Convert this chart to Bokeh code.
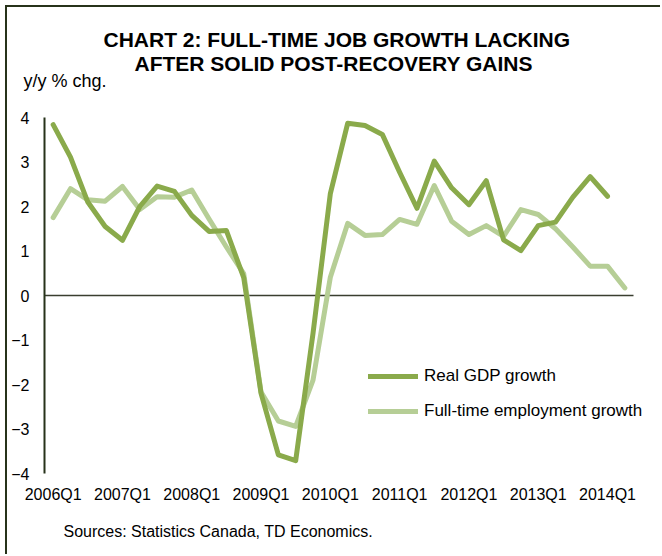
from bokeh.plotting import figure
from bokeh.models import Range1d, FixedTicker, Legend, LegendItem, Title
from bokeh.embed import file_html
from bokeh.resources import INLINE

# Quarterly categories, 2006Q1 .. 2014Q2
quarters = [
    "2006Q1", "2006Q2", "2006Q3", "2006Q4",
    "2007Q1", "2007Q2", "2007Q3", "2007Q4",
    "2008Q1", "2008Q2", "2008Q3", "2008Q4",
    "2009Q1", "2009Q2", "2009Q3", "2009Q4",
    "2010Q1", "2010Q2", "2010Q3", "2010Q4",
    "2011Q1", "2011Q2", "2011Q3", "2011Q4",
    "2012Q1", "2012Q2", "2012Q3", "2012Q4",
    "2013Q1", "2013Q2", "2013Q3", "2013Q4",
    "2014Q1", "2014Q2",
]

# Real GDP growth, y/y % chg. (through 2014Q1)
gdp_growth = [
    3.84, 3.11, 2.10, 1.55, 1.24, 2.00, 2.46, 2.34,
    1.80, 1.44, 1.46, 0.40, -2.20, -3.58, -3.71, -0.85,
    2.29, 3.87, 3.82, 3.62, 2.77, 1.96, 3.02, 2.42,
    2.04, 2.58, 1.25, 1.01, 1.57, 1.65, 2.21, 2.67,
    2.23,
]

# Full-time employment growth, y/y % chg. (through 2014Q2)
fulltime_growth = [
    1.75, 2.40, 2.15, 2.12, 2.45, 1.93, 2.22, 2.21,
    2.37, 1.72, 1.09, 0.49, -2.17, -2.82, -2.94, -1.90,
    0.41, 1.62, 1.35, 1.37, 1.71, 1.60, 2.47, 1.67,
    1.37, 1.57, 1.33, 1.93, 1.82, 1.50, 1.09, 0.66,
    0.66, 0.17,
]

y_ticks = [-4, -3, -2, -1, 0, 1, 2, 3, 4]
x_label_every = 4

FONT = "Liberation Sans"
DARK_GREEN = "#8AAA4B"
LIGHT_GREEN = "#B6CE96"
AXIS_COLOR = "#27321a"

n = len(quarters)
# the category band takes 589 px; the frame runs on to the right edge (618 px)
# so the legend text has room past the last quarter
x_end = -0.5 + n * 618 / 589

p = figure(
    width=655, height=549,
    output_backend="svg", toolbar_location=None,
    x_range=Range1d(-0.5, x_end),
    y_range=Range1d(-4, 4),
    min_border_left=37, min_border_right=0,
    min_border_top=110, min_border_bottom=83,
)
p.styles = {
    "margin-left": "5px", "margin-top": "5px",
    "border-left": f"2px solid {AXIS_COLOR}",
    "border-top": f"2px solid {AXIS_COLOR}",
}
p.outline_line_color = None
p.xgrid.visible = False
p.ygrid.visible = False
p.background_fill_color = "white"
p.border_fill_color = "white"

# y axis
p.yaxis.ticker = FixedTicker(ticks=y_ticks)
p.yaxis.bounds = (y_ticks[0], y_ticks[-1])
p.yaxis.axis_line_color = AXIS_COLOR
p.yaxis.axis_line_width = 2
p.yaxis.major_tick_line_color = None
p.yaxis.minor_tick_line_color = None
p.yaxis.major_label_standoff = 9
p.yaxis.major_label_text_font = FONT
p.yaxis.major_label_text_font_size = "16px"
p.yaxis.major_label_text_color = "black"

# x axis: labels only, one per year
x_pos = list(range(n))
label_pos = x_pos[::x_label_every]
p.xaxis.ticker = FixedTicker(ticks=label_pos)
p.xaxis.major_label_overrides = {i: quarters[i] for i in label_pos}
p.xaxis.axis_line_color = None
p.xaxis.major_tick_line_color = None
p.xaxis.minor_tick_line_color = None
p.xaxis.major_label_standoff = 6
p.xaxis.major_label_text_font = FONT
p.xaxis.major_label_text_font_size = "16px"
p.xaxis.major_label_text_color = "black"

# zero line across the category band
p.line([-0.5, n - 0.5], [0, 0], line_color="#3a3f30", line_width=1.5)

r_emp = p.line(x_pos[:len(fulltime_growth)], fulltime_growth, line_color=LIGHT_GREEN,
               line_width=5, line_join="round", line_cap="round")
r_gdp = p.line(x_pos[:len(gdp_growth)], gdp_growth, line_color=DARK_GREEN,
               line_width=5, line_join="round", line_cap="round")

legend = Legend(
    items=[
        LegendItem(label="Real GDP growth", renderers=[r_gdp]),
        LegendItem(label="Full-time employment growth", renderers=[r_emp]),
    ],
    location=(324, 52),
    orientation="vertical",
    padding=0, margin=0, spacing=15,
    glyph_width=50, glyph_height=20, label_height=20,
    label_standoff=6,
    label_text_font=FONT, label_text_font_size="17px", label_text_color="black",
    border_line_color=None, background_fill_alpha=0,
)
p.add_layout(legend, "center")

# texts above the frame (first added sits nearest the frame); the standoffs
# tuck the two heading lines in close over the unit label
p.add_layout(Title(text="y/y % chg.", align="left", offset=-21, standoff=54,
                   text_font=FONT, text_font_style="normal", text_font_size="18px",
                   text_color="black"), "above")
p.add_layout(Title(text="CHART 2: FULL-TIME JOB GROWTH LACKING", align="left", offset=59,
                   standoff=-18,
                   text_font=FONT, text_font_style="bold", text_font_size="21px",
                   text_color="black"), "above")
p.add_layout(Title(text="AFTER SOLID POST-RECOVERY GAINS", align="left", offset=90,
                   standoff=-80,
                   text_font=FONT, text_font_style="bold", text_font_size="21px",
                   text_color="black"), "above")

# source note under the axis labels
p.add_layout(Title(text="Sources: Statistics Canada, TD Economics.", align="left", offset=19,
                   standoff=30, text_font=FONT, text_font_style="normal", text_font_size="16px",
                   text_color="black"), "below")

open("out.html", "w").write(file_html(p, INLINE))
